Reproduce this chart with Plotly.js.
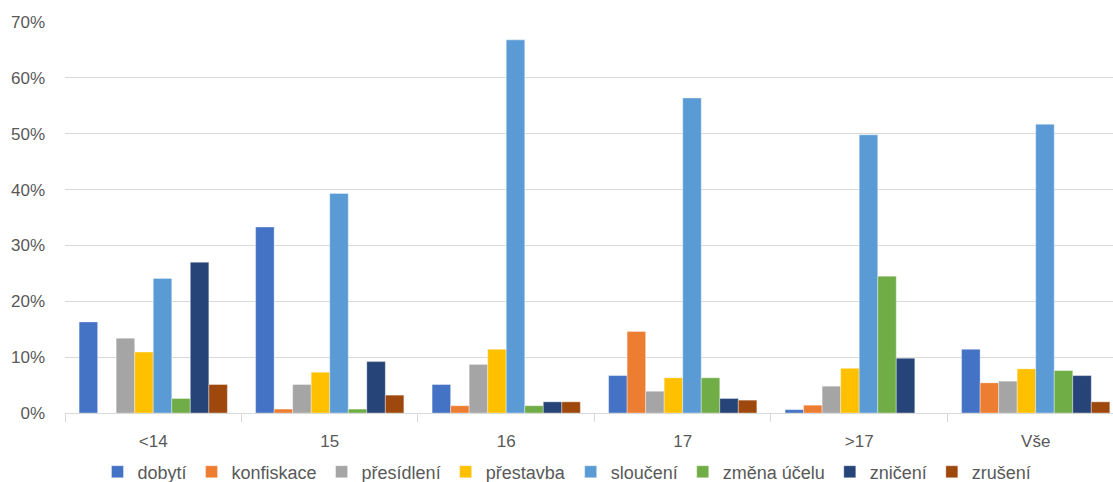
<!DOCTYPE html>
<html>
<head>
<meta charset="utf-8">
<script src="https://cdn.plot.ly/plotly-3.0.1.min.js"></script>
<style>html,body{margin:0;padding:0;background:#fff;}#chart{width:1113px;height:482px;}</style>
</head>
<body>
<div id="chart"></div>
<script>
const categories = ["<14", "15", "16", "17", ">17", "Vše"];
const seriesNames = ["dobytí", "konfiskace", "přesídlení", "přestavba", "sloučení", "změna účelu", "zničení", "zrušení"];
const dobyti      = [16.3, 33.3, 5.1, 6.7, 0.6, 11.4];
const konfiskace  = [0, 0.7, 1.3, 14.6, 1.4, 5.4];
const presidleni  = [13.4, 5.1, 8.7, 3.9, 4.8, 5.7];
const prestavba   = [10.9, 7.3, 11.4, 6.3, 8.0, 7.9];
const slouceni    = [24.1, 39.3, 66.8, 56.4, 49.8, 51.7];
const zmenaUcelu  = [2.6, 0.7, 1.3, 6.3, 24.5, 7.6];
const zniceni     = [27.0, 9.2, 2.0, 2.6, 9.8, 6.7];
const zruseni     = [5.1, 3.2, 2.0, 2.3, 0, 2.0];
const seriesValues = [dobyti, konfiskace, presidleni, prestavba, slouceni, zmenaUcelu, zniceni, zruseni];
const colors = ["#4472C4", "#ED7D31", "#A5A5A5", "#FFC000", "#5B9BD5", "#70AD47", "#264478", "#9E480E"];

const traces = seriesNames.map((name, i) => ({
  type: "bar",
  name: name,
  x: categories,
  y: seriesValues[i],
  marker: {color: colors[i], line: {color: "rgba(255,255,255,0.6)", width: 0.6}},
  hoverinfo: "x+y+name"
}));

const layout = {
  width: 1113,
  height: 482,
  margin: {l: 65, r: 0, t: 22, b: 69, autoexpand: false},
  paper_bgcolor: "#ffffff",
  plot_bgcolor: "#ffffff",
  barmode: "group",
  bargap: 0.16,
  bargroupgap: 0,
  font: {family: "Liberation Sans, Arial, sans-serif", size: 17, color: "#595959"},
  xaxis: {
    type: "category",
    range: [-0.5, 5.438],
    showgrid: false,
    showline: true,
    linecolor: "#d9d9d9",
    linewidth: 1,
    ticks: "outside",
    tickson: "boundaries",
    ticklen: 8,
    tickcolor: "#d9d9d9",
    tickfont: {size: 17, color: "#595959"},
    ticklabelstandoff: 13,
    zeroline: false,
    automargin: false
  },
  yaxis: {
    range: [0, 70],
    dtick: 10,
    ticksuffix: "%",
    showgrid: true,
    gridcolor: "#d9d9d9",
    gridwidth: 1,
    zeroline: false,
    showline: false,
    tickfont: {size: 17, color: "#595959"},
    ticklabelstandoff: 19,
    automargin: false
  },
  legend: {
    orientation: "h",
    x: 0.031,
    xanchor: "left",
    y: -0.151,
    yanchor: "middle",
    font: {size: 18, color: "#595959"},
    itemwidth: 30,
    tracegroupgap: 0
  },
  showlegend: true
};

Plotly.newPlot("chart", traces, layout, {displayModeBar: false, staticPlot: true});
</script>
</body>
</html>
